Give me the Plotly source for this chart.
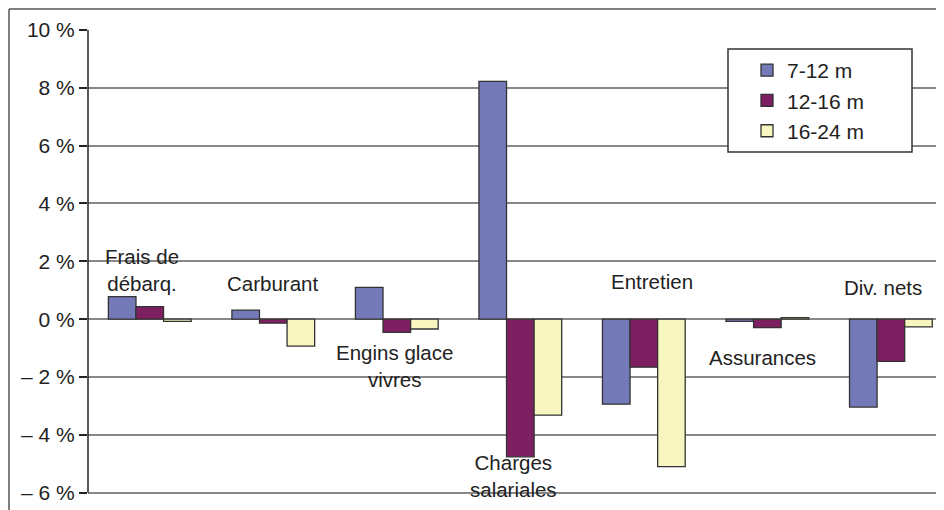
import plotly.graph_objects as go

# Data (% change)
categories = ["Frais de<br>débarq.", "Carburant", "Engins glace<br>vivres", "Charges<br>salariales",
              "Entretien", "Assurances", "Div. nets"]
series_names = ["7-12 m", "12-16 m", "16-24 m"]
v_7_12 = [0.78, 0.31, 1.1, 8.22, -2.94, -0.08, -3.04]
v_12_16 = [0.43, -0.14, -0.46, -4.76, -1.66, -0.29, -1.46]
v_16_24 = [-0.08, -0.93, -0.34, -3.32, -5.1, 0.05, -0.27]
tick_vals = [10, 8, 6, 4, 2, 0, -2, -4, -6]
tick_text = ["10 %", "8 %", "6 %", "4 %", "2 %", "0 %", "– 2 %", "– 4 %", "– 6 %"]

# label placement (y in data units, x shift in px)
label_y = [1.7, 1.22, -1.63, -5.43, 1.31, -1.31, 1.1]
label_dx = [-8, -1, -2, -7, 8, -5, -8]

colors = ["#7479B8", "#7E1F62", "#F7F5C0"]
font = "Liberation Sans, Arial, Helvetica, sans-serif"

# page is offset by the 8px body margin; plot area spans page x 88..944, y 30..510
def px(xp):
    return (xp - 88) / 856

def py(yp):
    return (510 - yp) / 480

fig = go.Figure()
x = list(range(len(categories)))
for name, vals, col in zip(series_names, [v_7_12, v_12_16, v_16_24], colors):
    fig.add_trace(go.Bar(
        x=x, y=vals, name=name,
        marker=dict(color=col, line=dict(color="#333333", width=1.3)),
    ))

for i, lab in enumerate(categories):
    fig.add_annotation(x=i, y=label_y[i], text=lab, showarrow=False, xshift=label_dx[i],
                       font=dict(size=20.5, color="#222222", family=font))

# y axis line, only over the tick range
fig.add_shape(type="line", xref="paper", yref="y", x0=0, x1=0,
              y0=min(tick_vals), y1=max(tick_vals),
              line=dict(color="#222222", width=1.5), layer="above")
# outer frame (left and top edges visible in the cropped reference)
fig.add_shape(type="line", xref="paper", yref="paper",
              x0=px(9), x1=1.2, y0=py(9), y1=py(9),
              line=dict(color="#555555", width=1.5))
fig.add_shape(type="line", xref="paper", yref="paper",
              x0=px(9), x1=px(9), y0=-0.1, y1=py(9),
              line=dict(color="#555555", width=1.5))
# legend box
fig.add_shape(type="rect", xref="paper", yref="paper",
              x0=px(728), x1=px(912), y0=py(152), y1=py(49),
              line=dict(color="#333333", width=1.5), fillcolor="white", layer="above")

fig.update_layout(
    width=944, height=510,
    margin=dict(l=80, r=8, t=22, b=8),
    paper_bgcolor="white", plot_bgcolor="white",
    barmode="group", bargap=0.33, bargroupgap=0,
    font=dict(family=font, size=20, color="#222222"),
    showlegend=True,
    legend=dict(x=px(747), y=py(50), xanchor="left", yanchor="top",
                borderwidth=0, bgcolor="rgba(0,0,0,0)",
                font=dict(size=21, family=font)),
    xaxis=dict(range=[-0.5, 6.43], showticklabels=False, showgrid=False, zeroline=False,
               showline=False, ticks=""),
    yaxis=dict(range=[-6.6, 10], tickvals=tick_vals, ticktext=tick_text,
               showgrid=True, gridcolor="#888888", gridwidth=1.5,
               zeroline=False, showline=False,
               ticks="outside", ticklen=8, tickcolor="#222222", tickwidth=1.5,
               tickfont=dict(size=21, family=font)),
)

fig.write_html("out.html")
